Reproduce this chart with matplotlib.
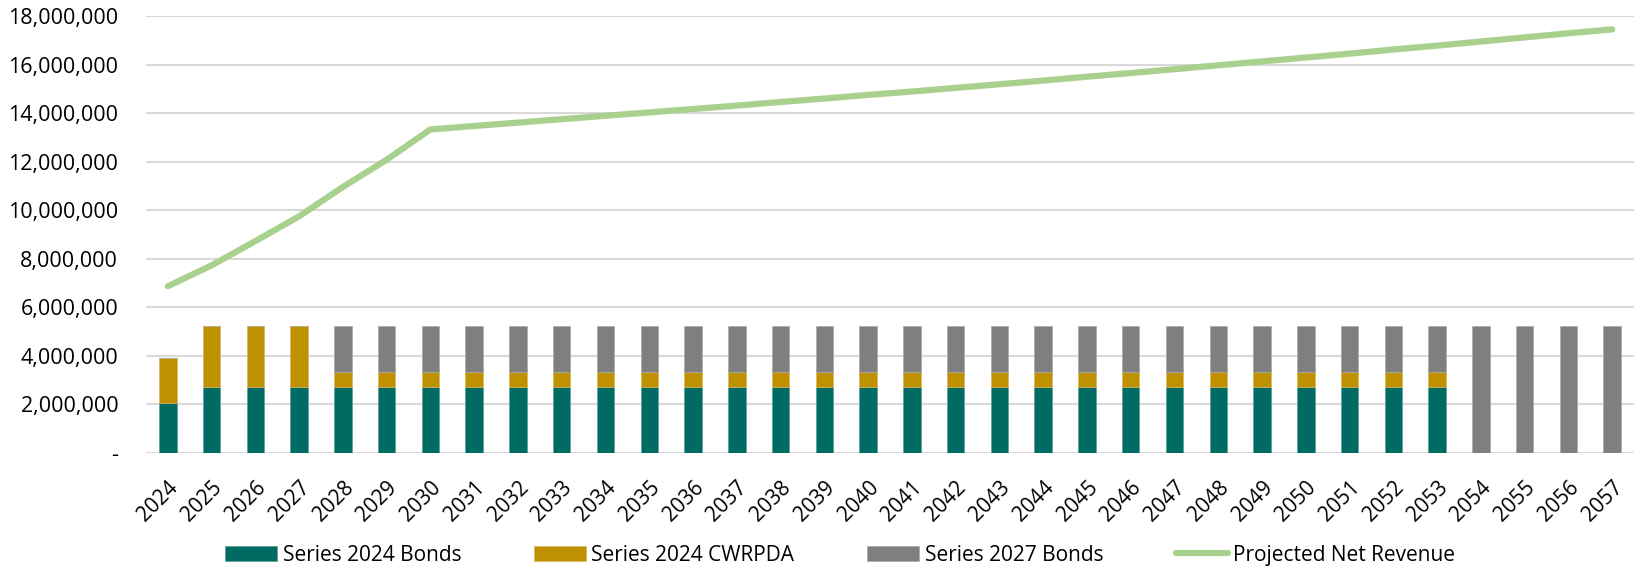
import numpy as np
import matplotlib.pyplot as plt

plt.rcParams['font.family'] = ['Open Sans', 'DejaVu Sans']

years = list(range(2024, 2058))

# debt service components
series_2024_bonds = [2.04e6, 2.73e6, 2.73e6, 2.73e6] + [2.73e6] * 26 + [0, 0, 0, 0]
series_2024_cwrpda = [1.87e6, 2.49e6, 2.49e6, 2.49e6] + [0.59e6] * 26 + [0, 0, 0, 0]
series_2027_bonds = [0, 0, 0, 0] + [1.90e6] * 26 + [5.22e6] * 4

projected_net_revenue = [
    6.87e6, 7.73e6, 8.73e6, 9.75e6, 10.96e6, 12.08e6, 13.33e6,
    13.47e6, 13.61e6, 13.75e6, 13.89e6, 14.03e6, 14.17e6, 14.31e6,
    14.46e6, 14.60e6, 14.75e6, 14.89e6, 15.04e6, 15.19e6, 15.34e6,
    15.50e6, 15.65e6, 15.81e6, 15.97e6, 16.13e6, 16.29e6, 16.45e6,
    16.62e6, 16.78e6, 16.95e6, 17.12e6, 17.29e6, 17.45e6,
]

teal = '#006B63'
gold = '#BF9000'
grey = '#7F7F7F'
green = '#A9D18E'

fig = plt.figure(figsize=(16.38, 5.66), dpi=100)
ax = fig.add_axes([0.0891, 0.1996, 0.9085, 0.7721])

x = np.arange(len(years))
b1 = np.array(series_2024_bonds)
b2 = np.array(series_2024_cwrpda)
b3 = np.array(series_2027_bonds)
w = 0.4
h1 = ax.bar(x, b1, w, color=teal, edgecolor='#5a9e98', linewidth=0.5, label='Series 2024 Bonds', zorder=2)
h2 = ax.bar(x, b2, w, bottom=b1, color=gold, edgecolor='#d8b860', linewidth=0.5, label='Series 2024 CWRPDA', zorder=2)
h3 = ax.bar(x, b3, w, bottom=b1 + b2, color=grey, edgecolor='#a8a8a8', linewidth=0.5, label='Series 2027 Bonds', zorder=2)
h4, = ax.plot(x, projected_net_revenue, color=green, linewidth=4.5, solid_capstyle='round',
              solid_joinstyle='round', label='Projected Net Revenue', zorder=3)

ax.set_xlim(-0.5, len(years) - 0.5)
ax.set_ylim(0, 18e6)
yt = np.arange(0, 18e6 + 1, 2e6)
ax.set_yticks(yt)
ax.set_yticklabels(['-'] + [f'{int(v):,}' for v in yt[1:]], fontsize=15.5)
ax.set_xticks(x)
ax.set_xticklabels([str(y) for y in years], fontsize=15, rotation=45,
                   ha='right', va='top', rotation_mode='anchor')
ax.tick_params(axis='y', length=0, pad=20)
ax.tick_params(axis='x', length=0, pad=17)
ax.grid(axis='y', color='#D9D9D9', linewidth=1.5, zorder=0)
ax.set_axisbelow(True)
for s in ax.spines.values():
    s.set_visible(False)

fig.legend(handles=[h1, h2, h3, h4], loc='center', bbox_to_anchor=(0.513, 0.019), ncol=4,
           frameon=False, fontsize=15, handlelength=2.5, handleheight=0.7,
           handletextpad=0.25, columnspacing=3.5)

fig.savefig('out.png', dpi=100)
